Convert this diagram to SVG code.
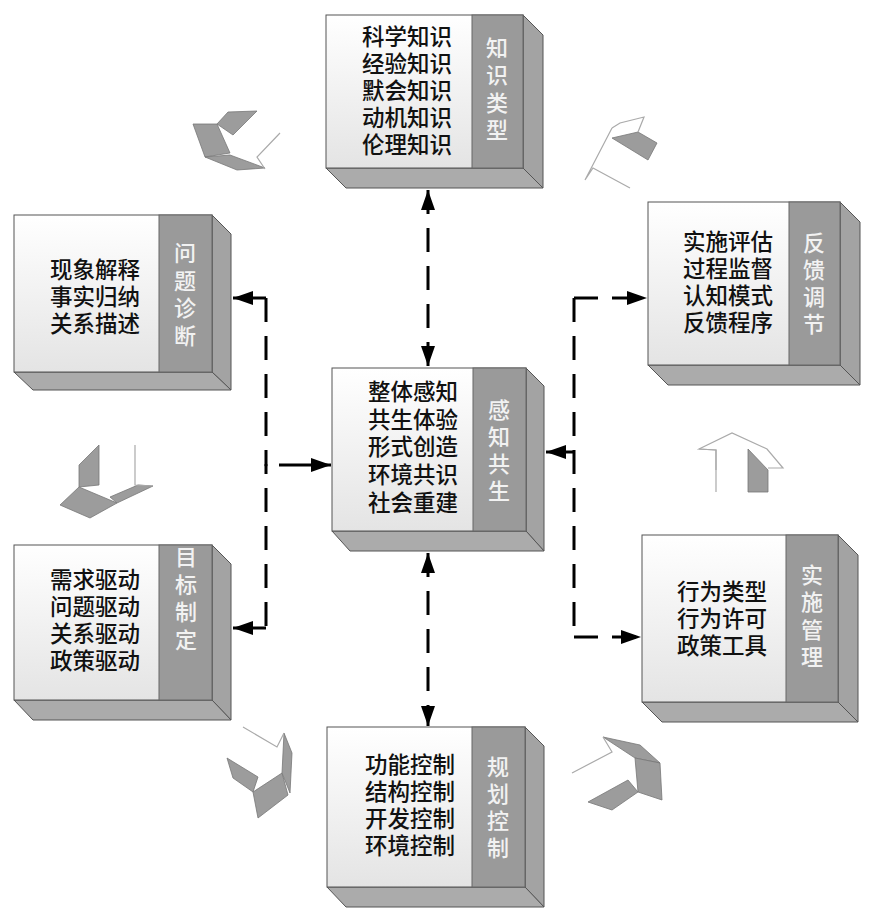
<svg xmlns="http://www.w3.org/2000/svg" width="874" height="921" viewBox="0 0 874 921">
  <defs>
    <linearGradient id="faceGrad" x1="0" y1="0" x2="0" y2="1">
      <stop offset="0" stop-color="#ffffff"/>
      <stop offset="1" stop-color="#e4e4e4"/>
    </linearGradient>
    <marker id="arrow" viewBox="0 0 20 14" refX="20" refY="7" markerWidth="20" markerHeight="14" markerUnits="userSpaceOnUse" orient="auto-start-reverse">
      <path d="M0,0 L20,7 L0,14 Z" fill="#000"/>
    </marker>
  </defs>
  <style>
    .front { fill: url(#faceGrad); stroke: #555; stroke-width: 1; }
    .label { fill: #9a9a9a; stroke: #666; stroke-width: 1; }
    .side { fill: #a3a3a3; stroke: #555; stroke-width: 1; }
    .bottom { fill: #ababab; stroke: #555; stroke-width: 1; }
    .txt { font-family: "Liberation Sans", "Noto Sans CJK SC", sans-serif; font-size: 22.5px; font-weight: 500; fill: #111; }
    .lbl { font-family: "Liberation Sans", "Noto Sans CJK SC", sans-serif; font-size: 22px; font-weight: 500; fill: #f2f2f2; text-anchor: middle; }
    .dash { fill: none; stroke: #000; stroke-width: 3; stroke-dasharray: 24 14; }
    .solid { fill: none; stroke: #000; stroke-width: 3; }
    .flap { fill: #9c9c9c; stroke: #777; stroke-width: 0.8; }
    .edge { fill: none; stroke: #aaa; stroke-width: 1.2; }
  </style>

  <rect width="874" height="921" fill="#ffffff"/>

  <!-- connectors -->
  <g id="connectors">
    <line class="dash" x1="428" y1="190" x2="428" y2="366" marker-start="url(#arrow)" marker-end="url(#arrow)"/>
    <line class="dash" x1="428" y1="553" x2="428" y2="726" marker-start="url(#arrow)" marker-end="url(#arrow)"/>
    <line class="dash" x1="266" y1="298" x2="266" y2="628"/>
    <line class="solid" x1="266" y1="298" x2="233" y2="298" marker-end="url(#arrow)"/>
    <line class="solid" x1="266" y1="628" x2="233" y2="628" marker-end="url(#arrow)"/>
    <line class="solid" x1="279" y1="465" x2="331" y2="465" marker-end="url(#arrow)"/>
    <circle cx="266" cy="465" r="1.6" fill="#000"/>
    <line class="dash" x1="574" y1="298" x2="574" y2="637"/>
    <line class="dash" x1="574" y1="298" x2="647" y2="298" marker-end="url(#arrow)"/>
    <line class="dash" x1="574" y1="637" x2="641" y2="637" marker-end="url(#arrow)"/>
    <line class="solid" x1="574" y1="452" x2="546" y2="452" marker-end="url(#arrow)"/>
  </g>

  <!-- knowledge types -->
  <g id="node-knowledge">
    <polygon class="side" points="523,15 543,35 543,188 523,168"/>
    <polygon class="bottom" points="326,168 523,168 543,188 346,188"/>
    <rect class="front" x="326" y="15" width="197" height="153"/>
    <rect class="label" x="472" y="15" width="51" height="153"/>
    <text class="txt" x="362" y="45">科学知识<tspan x="362" dy="27">经验知识</tspan><tspan x="362" dy="27">默会知识</tspan><tspan x="362" dy="27">动机知识</tspan><tspan x="362" dy="27">伦理知识</tspan></text>
    <text class="lbl" x="497" y="56">知<tspan x="497" dy="27.3">识</tspan><tspan x="497" dy="27.3">类</tspan><tspan x="497" dy="27.3">型</tspan></text>
  </g>

  <!-- problem diagnosis -->
  <g id="node-diagnosis">
    <polygon class="side" points="212,215 231,234 231,390 212,372"/>
    <polygon class="bottom" points="14,372 212,372 231,390 33,390"/>
    <rect class="front" x="14" y="215" width="198" height="157"/>
    <rect class="label" x="159" y="215" width="53" height="157"/>
    <text class="txt" x="50" y="278">现象解释<tspan x="50" dy="27">事实归纳</tspan><tspan x="50" dy="27">关系描述</tspan></text>
    <text class="lbl" x="185" y="261">问<tspan x="185" dy="27.7">题</tspan><tspan x="185" dy="27.7">诊</tspan><tspan x="185" dy="27.7">断</tspan></text>
  </g>

  <!-- perception symbiosis -->
  <g id="node-perception">
    <polygon class="side" points="526,368 544,386 544,551 526,531"/>
    <polygon class="bottom" points="332,531 526,531 544,551 350,551"/>
    <rect class="front" x="332" y="368" width="194" height="163"/>
    <rect class="label" x="473" y="368" width="53" height="163"/>
    <text class="txt" x="368" y="400">整体感知<tspan x="368" dy="27.7">共生体验</tspan><tspan x="368" dy="27.7">形式创造</tspan><tspan x="368" dy="27.7">环境共识</tspan><tspan x="368" dy="27.7">社会重建</tspan></text>
    <text class="lbl" x="499" y="418">感<tspan x="499" dy="27">知</tspan><tspan x="499" dy="27">共</tspan><tspan x="499" dy="27">生</tspan></text>
  </g>

  <!-- feedback regulation -->
  <g id="node-feedback">
    <polygon class="side" points="840,202 860,222 860,385 840,365"/>
    <polygon class="bottom" points="648,365 840,365 860,385 668,385"/>
    <rect class="front" x="648" y="202" width="192" height="163"/>
    <rect class="label" x="789" y="202" width="51" height="163"/>
    <text class="txt" x="683" y="250">实施评估<tspan x="683" dy="27">过程监督</tspan><tspan x="683" dy="27">认知模式</tspan><tspan x="683" dy="27">反馈程序</tspan></text>
    <text class="lbl" x="814" y="251">反<tspan x="814" dy="27">馈</tspan><tspan x="814" dy="27">调</tspan><tspan x="814" dy="27">节</tspan></text>
  </g>

  <!-- goal setting -->
  <g id="node-goal">
    <polygon class="side" points="212,545 231,564 231,720 212,700"/>
    <polygon class="bottom" points="14,700 212,700 231,720 33,720"/>
    <rect class="front" x="14" y="545" width="198" height="155"/>
    <rect class="label" x="159" y="545" width="53" height="155"/>
    <text class="txt" x="50" y="588">需求驱动<tspan x="50" dy="27">问题驱动</tspan><tspan x="50" dy="27">关系驱动</tspan><tspan x="50" dy="27">政策驱动</tspan></text>
    <text class="lbl" x="186" y="565">目<tspan x="186" dy="27.7">标</tspan><tspan x="186" dy="27.7">制</tspan><tspan x="186" dy="27.7">定</tspan></text>
  </g>

  <!-- implementation management -->
  <g id="node-implementation">
    <polygon class="side" points="838,535 858,555 858,722 838,702"/>
    <polygon class="bottom" points="642,702 838,702 858,722 662,722"/>
    <rect class="front" x="642" y="535" width="196" height="167"/>
    <rect class="label" x="786" y="535" width="52" height="167"/>
    <text class="txt" x="677" y="600">行为类型<tspan x="677" dy="27">行为许可</tspan><tspan x="677" dy="27">政策工具</tspan></text>
    <text class="lbl" x="812" y="583">实<tspan x="812" dy="27.3">施</tspan><tspan x="812" dy="27.3">管</tspan><tspan x="812" dy="27.3">理</tspan></text>
  </g>

  <!-- planning control -->
  <g id="node-planning">
    <polygon class="side" points="525,727 544,746 544,907 525,887"/>
    <polygon class="bottom" points="327,887 525,887 544,907 346,907"/>
    <rect class="front" x="327" y="727" width="198" height="160"/>
    <rect class="label" x="472" y="727" width="53" height="160"/>
    <text class="txt" x="365" y="773">功能控制<tspan x="365" dy="27">结构控制</tspan><tspan x="365" dy="27">开发控制</tspan><tspan x="365" dy="27">环境控制</tspan></text>
    <text class="lbl" x="498" y="775">规<tspan x="498" dy="27">划</tspan><tspan x="498" dy="27">控</tspan><tspan x="498" dy="27">制</tspan></text>
  </g>

  <!-- cycle arrows drawn as bent 3D ribbons -->
  <g id="cycle-arrows">
    <!-- upper left -->
    <polygon class="flap" points="228,112 257,111 233,135 217,124"/>
    <polygon class="flap" points="193,124 217,124 230,153 205,157"/>
    <polygon class="flap" points="205,157 230,155 265,168 237,170"/>
    <polyline class="edge" points="280,133 257,157 265,169"/>
    <!-- upper right -->
    <polygon class="flap" points="612,138 638,132 657,143 648,160"/>
    <polyline class="edge" points="612,128 620,123 644,117 638,132"/>
    <polyline class="edge" points="612,128 585,180 593,168 630,188"/>
    <!-- left, pointing down -->
    <polygon class="flap" points="79,465 99,445 99,485 79,487"/>
    <polygon class="flap" points="79,487 60,505 90,518 117,503"/>
    <polygon class="flap" points="117,503 153,486 138,485 110,497"/>
    <polyline class="edge" points="135,445 135,485 153,486"/>
    <!-- right, pointing up -->
    <polyline class="edge" points="716,492 716,450 699,449 732,433 767,449 783,468 768,468"/>
    <polyline class="edge" points="699,449 716,450 716,470"/>
    <polygon class="flap" points="748,449 748,492 768,492 768,470"/>
    <!-- lower left -->
    <polygon class="flap" points="227,758 258,777 253,792 233,778"/>
    <polygon class="flap" points="253,792 282,773 288,795 258,818"/>
    <polygon class="flap" points="282,773 284,733 292,753 290,793"/>
    <polyline class="edge" points="243,727 277,747 284,733"/>
    <!-- lower right -->
    <polygon class="flap" points="603,737 640,745 660,763 635,758"/>
    <polygon class="flap" points="635,758 660,763 662,800 638,792"/>
    <polygon class="flap" points="588,802 628,780 638,792 612,810"/>
    <polyline class="edge" points="603,737 612,752 572,773"/>
  </g>
</svg>
